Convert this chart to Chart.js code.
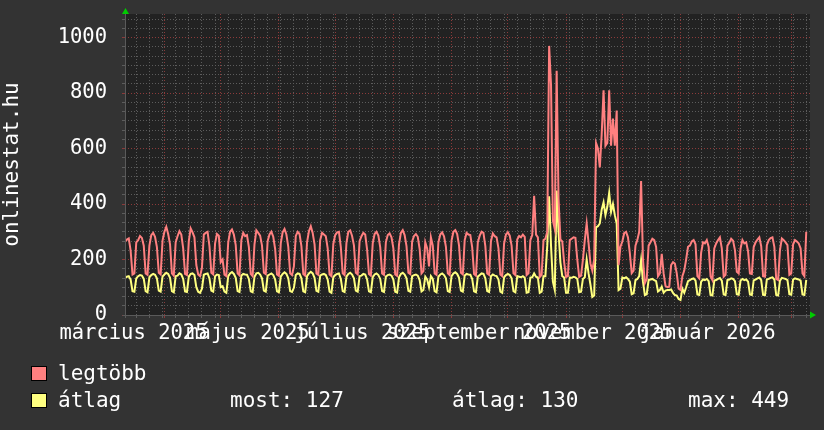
<!DOCTYPE html>
<html lang="hu">
<head>
<meta charset="utf-8">
<title>onlinestat.hu</title>
<script src="https://cdn.jsdelivr.net/npm/chart.js@4.4.1/dist/chart.umd.min.js"></script>
<style>
    html, body { margin: 0; padding: 0; background: #333333; }
    #wrap { position: relative; width: 824px; height: 430px; background: #333333; color: #ffffff;
            font-family: "DejaVu Sans Mono", monospace; overflow: hidden; }
    #chart { position: absolute; left: 0; top: 0; }
    .box { position: absolute; width: 14px; height: 13px; border: 1px solid #000000; }
    .txt { position: absolute; font-size: 21px; line-height: 24px; white-space: pre; }
</style>
</head>
<body>
<div id="wrap">
    <canvas id="chart" width="824" height="430"></canvas>
    <div class="box" style="left:31px; top:366px; background:#ff8080;"></div>
    <div class="txt" style="left:58px; top:361px;">legtöbb</div>
    <div class="box" style="left:31px; top:393px; background:#ffff80;"></div>
    <div class="txt" style="left:58px; top:388px;">átlag</div>
    <div class="txt" style="left:230px; top:388px;">most: 127</div>
    <div class="txt" style="left:452px; top:388px;">átlag: 130</div>
    <div class="txt" style="left:688px; top:388px;">max: 449</div>
</div>
<script>
const FONT = "'DejaVu Sans Mono', monospace";
const RED = "#ff8080";
const YELLOW = "#ffff80";

// one value per day, day 0 = 2025-03-11 (a Tuesday), rows are Tue..Mon weeks
const MAX_VALUES = [
    264, 272, 276, 232, 146, 150, 262,
    270, 285, 278, 250, 150, 145, 250,
    288, 296, 282, 245, 152, 146, 268,
    300, 318, 292, 255, 150, 142, 262,
    284, 302, 290, 240, 148, 144, 266,
    312, 298, 280, 180, 146, 140, 170,
    290, 296, 300, 248, 152, 146, 258,
    292, 286, 190, 200, 145, 140, 262,
    300, 308, 290, 252, 150, 143, 270,
    296, 284, 288, 245, 148, 140, 255,
    305, 296, 286, 250, 152, 147, 266,
    290, 300, 282, 238, 146, 141, 258,
    298, 310, 290, 246, 150, 144, 175,
    285, 300, 292, 248, 148, 142, 262,
    302, 320, 296, 255, 150, 145, 270,
    296, 290, 284, 240, 146, 140, 256,
    288, 298, 300, 245, 150, 144, 260,
    300, 305, 285, 250, 152, 146, 266,
    284, 296, 290, 236, 148, 142, 258,
    292, 300, 286, 244, 150, 145, 262,
    288, 294, 280, 240, 146, 141, 255,
    296, 306, 288, 248, 152, 147, 265,
    285, 292, 282, 238, 150, 158, 262,
    240, 175, 280, 250, 150, 145, 262,
    290, 298, 284, 246, 150, 144, 268,
    300, 306, 292, 250, 152, 146, 270,
    296, 290, 288, 244, 148, 142, 262,
    286, 300, 296, 248, 150, 145, 266,
    294, 284, 280, 240, 146, 140, 258,
    290, 298, 286, 250, 150, 144, 272,
    285, 280, 290, 282, 144, 150, 270,
    288, 430, 290, 280, 137, 145, 270,
    275, 300, 970, 830, 340, 310, 880,
    420, 272, 265, 190, 137, 140, 270,
    275, 280, 278, 200, 137, 142, 200,
    270, 330, 260, 186, 160, 200, 620,
    600, 532, 650, 810, 610, 620, 810,
    610, 708, 610, 737, 180, 246, 265,
    295, 300, 280, 223, 151, 160, 250,
    270, 300, 483, 200, 115, 130, 250,
    262, 275, 270, 245, 140, 150, 220,
    150, 105, 100, 102, 180, 190, 185,
    150, 95, 90, 140, 160, 200, 246,
    250, 265, 270, 255, 140, 132, 225,
    262, 258, 270, 245, 140, 126, 240,
    258, 270, 280, 240, 138, 145, 250,
    260, 275, 268, 234, 156, 150, 240,
    270, 258, 262, 230, 150, 148, 245,
    262, 272, 280, 248, 140, 138, 252,
    270, 277, 280, 246, 130, 126, 234,
    276, 270, 262, 252, 145, 150, 255,
    270, 265, 258, 240, 150, 140, 300,
];

const AVG_VALUES = [
    133, 138, 140, 128, 86, 84, 132,
    140, 144, 142, 130, 86, 82, 136,
    144, 148, 145, 132, 88, 84, 138,
    146, 152, 148, 134, 86, 82, 140,
    142, 150, 146, 130, 85, 83, 138,
    148, 150, 144, 100, 84, 80, 95,
    145, 148, 150, 132, 88, 84, 140,
    146, 144, 100, 104, 84, 80, 140,
    150, 155, 148, 134, 86, 83, 142,
    148, 146, 145, 130, 85, 82, 138,
    150, 152, 146, 132, 88, 84, 142,
    146, 150, 144, 128, 85, 82, 138,
    148, 154, 148, 132, 86, 83, 98,
    144, 150, 148, 132, 85, 82, 140,
    150, 156, 150, 134, 87, 84, 142,
    146, 148, 144, 128, 84, 80, 136,
    144, 148, 150, 130, 86, 83, 138,
    148, 152, 146, 132, 88, 84, 140,
    142, 148, 146, 128, 85, 82, 136,
    146, 150, 144, 130, 86, 83, 138,
    144, 146, 142, 128, 84, 81, 136,
    148, 152, 146, 132, 87, 84, 140,
    144, 146, 142, 126, 85, 90, 138,
    128, 100, 140, 130, 86, 82, 138,
    146, 150, 144, 132, 86, 83, 140,
    150, 154, 148, 134, 88, 84, 142,
    148, 146, 145, 130, 85, 82, 138,
    144, 150, 148, 132, 86, 83, 140,
    146, 142, 140, 128, 84, 80, 136,
    144, 148, 144, 132, 86, 82, 140,
    138, 136, 140, 134, 80, 82, 135,
    136, 150, 138, 135, 80, 84, 140,
    140, 250, 428, 250, 120, 90, 449,
    300, 190, 140, 135, 80, 80, 135,
    134, 138, 136, 130, 82, 84, 130,
    136, 200, 150, 110, 65, 70, 316,
    320, 330, 380, 406, 360, 390, 440,
    372, 400, 360, 330, 90, 95, 135,
    132, 136, 130, 120, 75, 78, 126,
    130, 140, 198, 120, 72, 75, 126,
    128, 130, 126, 122, 85, 90, 102,
    80, 88, 90, 90, 92, 80, 72,
    70, 58, 54, 95, 80, 100, 122,
    126, 130, 132, 124, 74, 72, 120,
    128, 126, 130, 122, 72, 70, 124,
    126, 130, 133, 124, 74, 72, 126,
    128, 132, 130, 122, 75, 73, 124,
    130, 126, 128, 120, 74, 72, 125,
    128, 132, 135, 126, 73, 72, 128,
    130, 134, 136, 128, 72, 70, 124,
    134, 132, 130, 126, 75, 73, 128,
    132, 130, 128, 124, 74, 72, 127,
];

// first day of each month, as day index (Apr 2025 .. Mar 2026)
const MONTH_START_DAYS = [21, 51, 82, 112, 143, 174, 204, 235, 265, 296, 327, 355];
const MONTH_LABEL_DAYS = [4.5, 65.5, 126.5, 188.5, 249.5, 310.5];
const MONTH_LABELS = ["március 2025", "május 2025", "július 2025", "szeptember 2025", "november 2025", "január 2026"];
const MONDAYS = MAX_VALUES.map((_, i) => i).filter((i) => i % 7 === 6);
const X_MAX = 365;
const Y_MAX = 1085;
const Y_LABEL_STEP = 200;
const Y_MINOR_PER_LABEL = 6;

const GRID_MINOR = "#5c5c5c";
const GRID_MAJOR = "#8c3a3a";

const xGridDays = [...new Set([...MONDAYS, ...MONTH_START_DAYS])].sort((a, b) => a - b);

const yTicks = [];
for (let i = 0; (i * Y_LABEL_STEP) / Y_MINOR_PER_LABEL <= Y_MAX; i++) {
    yTicks.push({ value: (i * Y_LABEL_STEP) / Y_MINOR_PER_LABEL, major: i % Y_MINOR_PER_LABEL === 0 });
}

// scales should not push the plot area around for label overhang
function noPad(s) {
    s.paddingTop = 0;
    s.paddingBottom = 0;
    s.paddingLeft = 0;
    s.paddingRight = 0;
}

const canvasBg = {
    id: "canvasBg",
    beforeDraw(chart) {
        const { ctx, chartArea: a } = chart;
        ctx.save();
        ctx.fillStyle = "#222222";
        ctx.fillRect(a.left, a.top, a.right - a.left, a.bottom - a.top);
        ctx.restore();
    },
};

const axisArrows = {
    id: "axisArrows",
    afterDraw(chart) {
        const { ctx, chartArea: a } = chart;
        const y0 = chart.scales.y.getPixelForValue(0);
        const x0 = Math.round(a.left) + 0.5;
        ctx.save();
        ctx.strokeStyle = "#5a5a5a";
        ctx.lineWidth = 1;
        ctx.beginPath();
        ctx.moveTo(x0 - 3, Math.round(y0) + 0.5);
        ctx.lineTo(a.right + 2, Math.round(y0) + 0.5);
        ctx.moveTo(x0, Math.round(y0) + 3);
        ctx.lineTo(x0, a.top - 1);
        ctx.stroke();
        ctx.fillStyle = "#00cc00";
        ctx.beginPath();
        ctx.moveTo(x0, a.top - 6);
        ctx.lineTo(x0 - 3.5, a.top);
        ctx.lineTo(x0 + 3.5, a.top);
        ctx.closePath();
        ctx.fill();
        ctx.beginPath();
        ctx.moveTo(a.right + 6, y0);
        ctx.lineTo(a.right, y0 - 3.5);
        ctx.lineTo(a.right, y0 + 3.5);
        ctx.closePath();
        ctx.fill();
        ctx.restore();
    },
};

new Chart(document.getElementById("chart"), {
    type: "line",
    data: {
        datasets: [
            {
                label: "legtöbb",
                data: MAX_VALUES.map((v, i) => ({ x: i, y: v })),
                borderColor: RED,
                borderWidth: 2,
                pointRadius: 0,
                fill: false,
                tension: 0,
            },
            {
                label: "átlag",
                data: AVG_VALUES.map((v, i) => ({ x: i, y: v })),
                borderColor: YELLOW,
                borderWidth: 2,
                pointRadius: 0,
                fill: false,
                tension: 0,
            },
        ],
    },
    options: {
        responsive: false,
        animation: false,
        layout: { padding: { left: 0, right: 14, top: 14, bottom: 82 } },
        plugins: {
            legend: { display: false },
            tooltip: { enabled: false },
        },
        scales: {
            x: {
                type: "linear",
                position: "bottom",
                weight: 0,
                min: 0,
                max: X_MAX,
                afterBuildTicks: (s) => { s.ticks = xGridDays.map((v) => ({ value: v })); },
                afterFit: (s) => { s.height = 3; noPad(s); },
                ticks: { display: false },
                grid: {
                    color: (c) => (MONTH_START_DAYS.includes(c.tick.value) ? GRID_MAJOR : GRID_MINOR),
                    tickLength: 3,
                },
                border: { display: false, dash: [1, 2] },
            },
            xLabels: {
                type: "linear",
                position: "bottom",
                weight: 1,
                min: 0,
                max: X_MAX,
                afterBuildTicks: (s) => { s.ticks = MONTH_LABEL_DAYS.map((v) => ({ value: v })); },
                afterFit: (s) => { s.height = 30; noPad(s); },
                grid: { display: false, drawTicks: false },
                border: { display: false },
                ticks: {
                    autoSkip: false,
                    maxRotation: 0,
                    minRotation: 0,
                    padding: 3,
                    color: "#ffffff",
                    font: { family: FONT, size: 20.5 },
                    callback: (v, i) => MONTH_LABELS[i],
                },
            },
            y: {
                type: "linear",
                min: 0,
                max: Y_MAX,
                afterBuildTicks: (s) => { s.ticks = yTicks.map((t) => ({ value: t.value })); },
                afterFit: (s) => { s.width = 125; noPad(s); },
                ticks: {
                    autoSkip: false,
                    padding: 15,
                    color: "#ffffff",
                    font: { family: FONT, size: 20.5 },
                    callback: (v, i) => (yTicks[i].major ? String(Math.round(v)) : ""),
                },
                grid: {
                    color: (c) => (yTicks[c.index] && yTicks[c.index].major ? GRID_MAJOR : GRID_MINOR),
                    tickLength: 3,
                },
                border: { display: false, dash: [1, 2] },
                title: {
                    display: true,
                    text: "onlinestat.hu",
                    color: "#ffffff",
                    font: { family: FONT, size: 21 },
                    padding: 0,
                },
            },
        },
    },
    plugins: [canvasBg, axisArrows],
});
</script>
</body>
</html>
